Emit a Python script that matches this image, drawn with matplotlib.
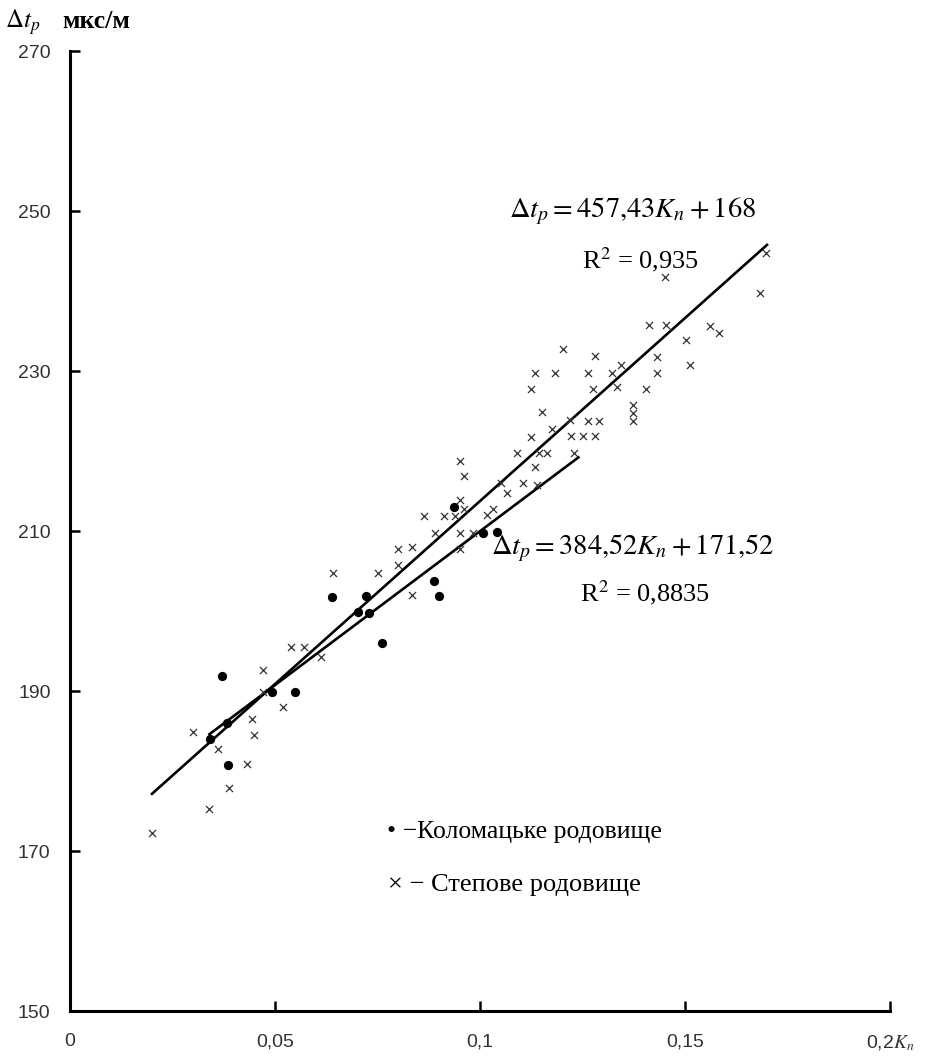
import numpy as np
import matplotlib
matplotlib.use("Agg")
import matplotlib.pyplot as plt

plt.rcParams['mathtext.fontset'] = 'stix'

# Коломацьке родовище (dots)
kol_k = [0.0341, 0.0370, 0.0382, 0.0386, 0.0492, 0.0549, 0.0639, 0.0703,
         0.0721, 0.0729, 0.0761, 0.0889, 0.0900, 0.0937, 0.1007, 0.1041]
kol_dt = [184.0, 191.9, 186.0, 180.75, 189.9, 189.9, 201.8, 199.9,
          201.9, 199.8, 196.0, 203.8, 201.9, 213.0, 209.8, 209.9]

# Степове родовище (crosses)
step_k = [0.0199, 0.0301, 0.0339, 0.0362, 0.0388, 0.0431, 0.0443, 0.0449,
          0.0470, 0.0470, 0.0519, 0.0539, 0.0571, 0.0612, 0.0642, 0.0752,
          0.0799, 0.0799, 0.0833, 0.0833, 0.0863, 0.0890, 0.0912, 0.0939,
          0.0950, 0.0962, 0.0950, 0.0962, 0.0951, 0.0982, 0.0951, 0.1016,
          0.1032, 0.1065, 0.1051, 0.1104, 0.1138, 0.1134, 0.1091, 0.1145,
          0.1163, 0.1229, 0.1124, 0.1221, 0.1252, 0.1280, 0.1175, 0.1220,
          0.1264, 0.1291, 0.1150, 0.1124, 0.1275, 0.1333, 0.1404, 0.1134,
          0.1183, 0.1264, 0.1321, 0.1431, 0.1344, 0.1512, 0.1280, 0.1431,
          0.1203, 0.1502, 0.1413, 0.1454, 0.1561, 0.1584, 0.1452, 0.1683,
          0.1698, 0.1372, 0.1372, 0.1372]
step_dt = [172.25, 184.9, 175.2, 182.8, 177.9, 180.9, 186.5, 184.5,
           192.6, 189.9, 188.0, 195.5, 195.5, 194.2, 204.8, 204.8,
           205.75, 207.8, 208.0, 202.0, 211.9, 209.8, 211.9, 211.9,
           213.9, 212.75, 218.8, 216.9, 209.8, 209.7, 207.7, 212.0,
           212.8, 214.8, 216.0, 216.0, 215.8, 218.0, 219.8, 219.8,
           219.8, 219.8, 221.8, 221.9, 221.9, 221.9, 222.7, 223.9,
           223.8, 223.8, 224.9, 227.8, 227.8, 228.0, 227.8, 229.8,
           229.8, 229.8, 229.8, 229.8, 230.7, 230.7, 231.9, 231.8,
           232.7, 233.9, 235.8, 235.8, 235.6, 234.8, 241.8, 239.8,
           244.8, 225.8, 224.8, 223.7]

# trend lines: (slope, intercept, x range)
fit_all = (457.43, 168.0, [0.02, 0.17])
fit_kol = (384.52, 171.52, [0.034, 0.124])

xticks = [0, 0.05, 0.1, 0.15, 0.2]
xtick_labels = ['0', '0,05', '0,1', '0,15', r'0,2$K_n$']
yticks = [150, 170, 190, 210, 230, 250, 270]

fig = plt.figure(figsize=(9.39, 10.57), dpi=100)
ax = fig.add_axes([70 / 939, 46 / 1057, 820 / 939, 960 / 1057])

ax.scatter(step_k, step_dt, marker='x', s=26, linewidths=0.9, color='#333333', zorder=3)
ax.scatter(kol_k, kol_dt, marker='o', s=32, color='black', zorder=4)

for a, b, rng in (fit_all, fit_kol):
    xs = np.array(rng)
    ax.plot(xs, a * xs + b, color='black', lw=1.9, zorder=2)

ax.set_xlim(0, 0.2)
ax.set_ylim(150, 270)
ax.set_xticks(xticks)
ax.set_xticklabels(xtick_labels)
ax.set_yticks(yticks)
for s in ('top', 'right'):
    ax.spines[s].set_visible(False)
for s in ('left', 'bottom'):
    ax.spines[s].set_linewidth(2.2)
ax.tick_params(direction='in', length=7, width=1.8, colors='black',
               labelcolor='#333333', labelsize=14)
ax.tick_params(axis='x', pad=16)
ax.tick_params(axis='y', pad=14)
for lab in ax.get_xticklabels() + ax.get_yticklabels():
    lab.set_fontfamily('Liberation Sans')

serif = 'Liberation Serif'
ax.text(0.1373, 249.9, r'$\Delta t_p = 457{,}43K_n + 168$', fontsize=20.5,
        ha='center', va='center')
ax.text(0.1390, 243.9, r'R$^2$ = 0,935', fontsize=19, family=serif,
        ha='center', va='center')
ax.text(0.1373, 207.9, r'$\Delta t_p = 384{,}52K_n + 171{,}52$', fontsize=20.5,
        ha='center', va='center')
ax.text(0.1402, 202.25, r'R$^2$ = 0,8835', fontsize=19, family=serif,
        ha='center', va='center')

ax.text(0.0773, 172.4, '• −Коломацьке родовище', fontsize=18.5, family=serif,
        ha='left', va='center')
ax.text(0.0775, 165.75, '× − Степове родовище', fontsize=19, family=serif,
        ha='left', va='center')

fig.text(5 / 939, 1 - 22 / 1057, r'$\Delta t_p$', fontsize=18, ha='left', va='center')
fig.text(62 / 939, 1 - 22 / 1057, 'мкс/м', fontsize=18.5, family=serif,
         fontweight='bold', ha='left', va='center')

fig.savefig('out.png', dpi=100)
